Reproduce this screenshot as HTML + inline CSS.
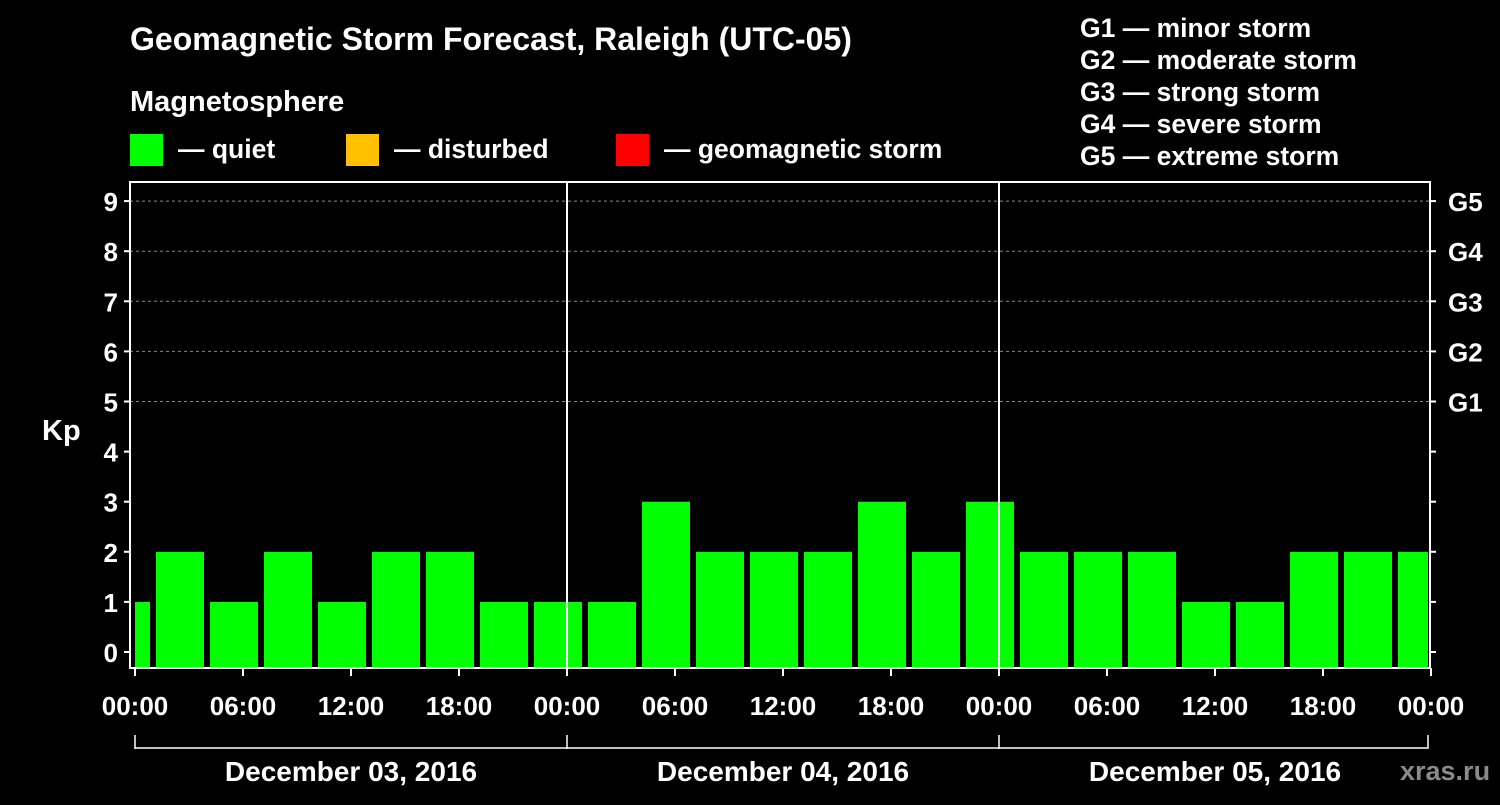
<!DOCTYPE html>
<html><head><meta charset="utf-8"><style>
body{margin:0;background:#000;width:1500px;height:800px;overflow:hidden;font-family:"Liberation Sans",Arial,sans-serif}
svg text{font-family:"Liberation Sans",Arial,sans-serif;font-weight:bold;fill:#fff}
</style></head><body>
<svg id="chart" width="1500" height="800" xmlns="http://www.w3.org/2000/svg">
<rect width="1500" height="800" fill="#000"/>
<text x="130" y="50" font-size="32">Geomagnetic Storm Forecast, Raleigh (UTC-05)</text>
<text x="130" y="111" font-size="29">Magnetosphere</text>
<g><rect x="130" y="134" width="33" height="32" fill="#00ff00"/><text x="178" y="158" font-size="26.5">— quiet</text></g>
<g><rect x="346" y="134" width="33" height="32" fill="#ffc000"/><text x="394" y="158" font-size="26.5">— disturbed</text></g>
<g><rect x="616" y="134" width="33" height="32" fill="#ff0000"/><text x="664" y="158" font-size="26.5">— geomagnetic storm</text></g>
<g font-size="26.5">
<text x="1080" y="37">G1 — minor storm</text>
<text x="1080" y="69">G2 — moderate storm</text>
<text x="1080" y="101">G3 — strong storm</text>
<text x="1080" y="133">G4 — severe storm</text>
<text x="1080" y="165">G5 — extreme storm</text>
</g>
<text x="42" y="440" font-size="29">Kp</text>
<text x="1400" y="780" font-size="27" style="fill:#8a8a8a">xras.ru</text>
<g id="grid"></g><g id="bars"></g><g id="axes"></g>
</svg>
<script>
const kpValues=[1,2,1,2,1,2,2,1,1,1,3,2,2,2,3,2,3,2,2,2,1,1,2,2,2];
const yTicks=[0,1,2,3,4,5,6,7,8,9];
const gLevels=["G1","G2","G3","G4","G5"];
const xTickLabels=["00:00","06:00","12:00","18:00","00:00","06:00","12:00","18:00","00:00","06:00","12:00","18:00","00:00"];
const dayLabels=["December 03, 2016","December 04, 2016","December 05, 2016"];
const NS="http://www.w3.org/2000/svg";
const plotLeft=130,plotRight=1430,plotTop=182,plotBottom=668,x0=135,dayW=432;
const xH=h=>x0+h*dayW/24;
const yV=v=>652-v*50.1;
function mk(t,a,p){const e=document.createElementNS(NS,t);for(const k in a)e.setAttribute(k,a[k]);p.appendChild(e);return e;}
const grid=document.getElementById('grid'),bars=document.getElementById('bars'),axes=document.getElementById('axes');
for(let v=5;v<=9;v++){const l=mk('line',{x1:plotLeft,x2:plotRight,y1:yV(v),y2:yV(v),stroke:'#888','stroke-dasharray':'3,3','stroke-width':1},grid);

}
kpValues.forEach((v,i)=>{
 const s=-2+i*3;let xa=xH(s)+3,xb=xH(s+3)-3;
 xa=Math.max(xa,plotLeft+5);xb=Math.min(xb,plotRight-2);
 const c=v>=5?'#ff0000':(v>=4?'#ffc000':'#00ff00');
 const r=mk('rect',{x:xa,y:yV(v),width:xb-xa,height:plotBottom-yV(v),fill:c},bars);
 
 
});
for(let d=1;d<=2;d++){const l=mk('line',{x1:x0+d*dayW,x2:x0+d*dayW,y1:plotTop,y2:plotBottom,stroke:'#fff','stroke-width':2},axes);

}
const fr=mk('rect',{x:plotLeft,y:plotTop,width:plotRight-plotLeft,height:plotBottom-plotTop,fill:'none',stroke:'#fff','stroke-width':2},axes);


yTicks.forEach(v=>{
 mk('line',{x1:plotLeft-6,x2:plotLeft,y1:yV(v),y2:yV(v),stroke:'#fff','stroke-width':2},axes);
 mk('line',{x1:plotRight,x2:plotRight+6,y1:yV(v),y2:yV(v),stroke:'#fff','stroke-width':2},axes);
 const t=mk('text',{x:plotLeft-12,y:yV(v)+10,'font-size':26,'text-anchor':'end'},axes);t.textContent=v;
 
 
});
gLevels.forEach((g,i)=>{const t=mk('text',{x:plotRight+18,y:yV(5+i)+10,'font-size':26},axes);t.textContent=g;
 
 });
xTickLabels.forEach((lab,i)=>{const x=xH(i*6);
 mk('line',{x1:x,x2:x,y1:plotBottom,y2:plotBottom+8,stroke:'#fff','stroke-width':2},axes);
 const t=mk('text',{x:x,y:715,'font-size':26,'text-anchor':'middle'},axes);t.textContent=lab;
 
 });
mk('line',{x1:x0,x2:x0+3*dayW-4,y1:748,y2:748,stroke:'#fff','stroke-width':1.5},axes);
for(let d=0;d<=3;d++){const x=Math.min(x0+d*dayW,plotRight-2);mk('line',{x1:x,x2:x,y1:735,y2:749,stroke:'#fff','stroke-width':1.5},axes);}
dayLabels.forEach((lab,i)=>{const t=mk('text',{x:x0+(i+0.5)*dayW,y:781,'font-size':28,'text-anchor':'middle'},axes);t.textContent=lab;
 
 });
</script>
</body></html>
